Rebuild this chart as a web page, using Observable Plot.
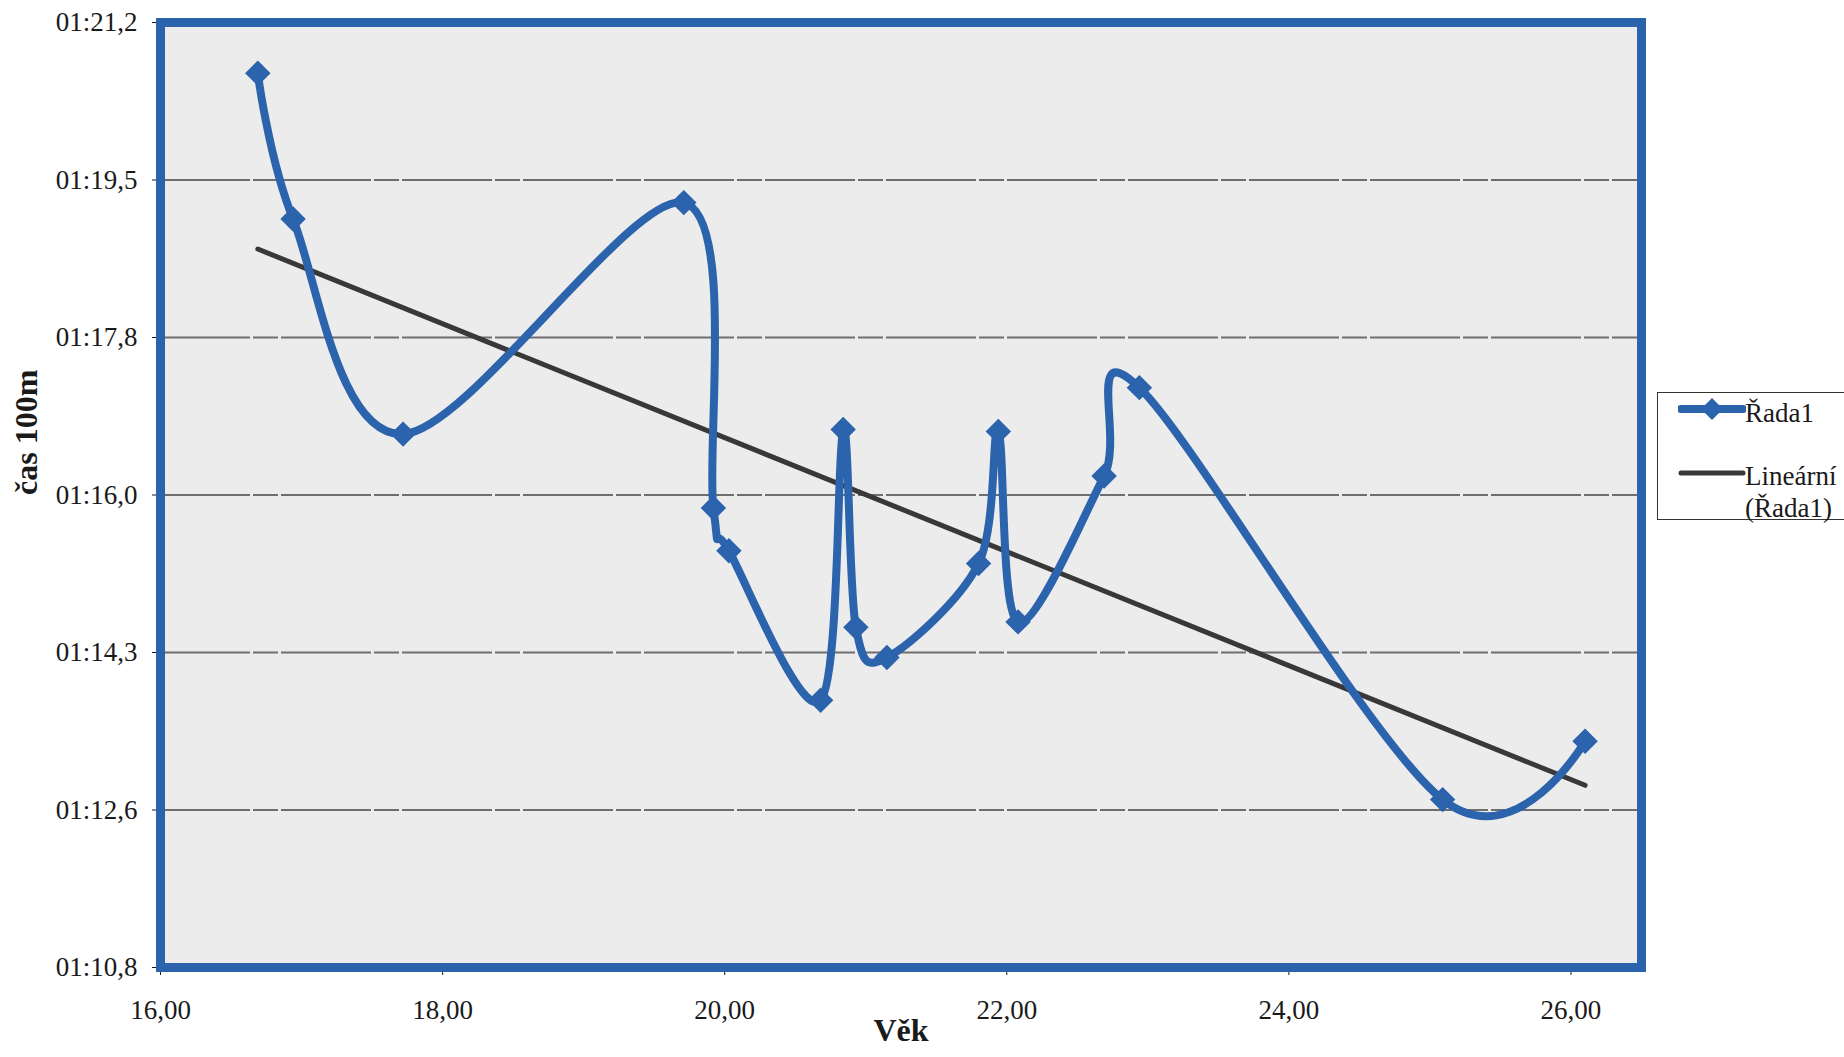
<!DOCTYPE html>
<html>
<head>
<meta charset="utf-8">
<script src="https://cdn.jsdelivr.net/npm/d3@7"></script>
<script src="https://cdn.jsdelivr.net/npm/@observablehq/plot@0.6"></script>
<style>
  html, body { margin: 0; padding: 0; background: #ffffff; overflow: hidden; }
  #wrap { position: relative; width: 1844px; height: 1057px; font-family: "Liberation Serif", "Times New Roman", serif; color: #1a1a1a; }
  #legend { position: absolute; left: 1657px; top: 392px; width: 200px; height: 128px; border: 1.5px solid #333; background: #fff; box-sizing: border-box; }
  #legend .txt { position: absolute; font-size: 27px; line-height: 32px; color: #1a1a1a; white-space: nowrap; }
  #legend svg { position: absolute; }
</style>
</head>
<body>
<div id="wrap">
  <div id="chart"></div>
  <div id="legend"></div>
</div>
<script>
// ---- data ----
const ages  = [16.69, 16.94, 17.72, 19.71, 19.92, 20.03, 20.68, 20.84, 20.93, 21.15, 21.80, 21.94, 22.08, 22.69, 22.94, 25.09, 26.10];
const times = [80.66, 79.06, 76.70, 79.24, 75.89, 75.42, 73.78, 76.75, 74.58, 74.25, 75.28, 76.73, 74.64, 76.24, 77.21, 72.69, 73.33]; // seconds

const xTicks = [16, 18, 20, 22, 24, 26];
const xTickLabels = ["16,00", "18,00", "20,00", "22,00", "24,00", "26,00"];
const yTicks = [70.848, 72.576, 74.304, 76.032, 77.76, 79.488, 81.216];
const yTickLabels = ["01:10,8", "01:12,6", "01:14,3", "01:16,0", "01:17,8", "01:19,5", "01:21,2"];

const xLabel = "Věk";
const yLabel = "čas 100m";
const seriesName = "Řada1";
const trendName1 = "Lineární";
const trendName2 = "(Řada1)";

// ---- styles ----
const blue = "#2c63ad";
const trendColor = "#383838";

const data = ages.map((a, i) => ({age: a, time: times[i]}));

const chart = Plot.plot({
  width: 1844,
  height: 1057,
  marginLeft: 160,
  marginRight: 203,
  marginTop: 22,
  marginBottom: 90,
  style: {fontFamily: "Liberation Serif, Times New Roman, serif", fontSize: "27px", color: "#1a1a1a", background: "transparent"},
  x: {
    domain: [16, 26.5],
    ticks: xTicks,
    tickFormat: d => xTickLabels[xTicks.indexOf(d)],
    tickSize: 8,
    tickPadding: 24,
    label: null
  },
  y: {
    domain: [yTicks[0], yTicks[yTicks.length - 1]],
    ticks: yTicks,
    tickFormat: d => yTickLabels[yTicks.indexOf(d)],
    tickSize: 8,
    tickPadding: 15,
    label: null
  },
  marks: [
    Plot.frame({fill: "#ececec", stroke: "none"}),
    Plot.ruleY(yTicks.slice(1, -1), {stroke: "#6e6e6e", strokeWidth: 1.8, strokeDasharray: "90,3,25,3"}),
    Plot.linearRegressionY(data, {x: "age", y: "time", ci: 0, stroke: trendColor, strokeWidth: 5}),
    Plot.line(data, {x: "age", y: "time", curve: "cardinal", stroke: blue, strokeWidth: 8, strokeLinejoin: "round", strokeLinecap: "round"}),
    Plot.dot(data, {x: "age", y: "time", symbol: "diamond2", r: 10.5, fill: blue, stroke: blue, strokeWidth: 1.5}),
    Plot.frame({stroke: blue, strokeWidth: 9}),
    Plot.text([xLabel], {frameAnchor: "bottom", dy: 73, fontSize: 32, fontWeight: "bold"}),
    Plot.text([yLabel], {frameAnchor: "left", dx: -134, rotate: -90, fontSize: 32, fontWeight: "bold"})
  ]
});
document.getElementById("chart").appendChild(chart);

// ---- legend ----
const legend = document.getElementById("legend");
legend.innerHTML = `
  <svg style="left:20px;top:4px" width="68" height="28">
    <line x1="3" y1="12" x2="65" y2="12" stroke="${blue}" stroke-width="8" stroke-linecap="round"/>
    <path d="M34,1 L45,12 L34,23 L23,12 Z" fill="${blue}"/>
  </svg>
  <div class="txt" style="left:87px;top:4px">${seriesName}</div>
  <svg style="left:20px;top:68px" width="68" height="24">
    <line x1="3" y1="12" x2="65" y2="12" stroke="${trendColor}" stroke-width="5" stroke-linecap="round"/>
  </svg>
  <div class="txt" style="left:87px;top:67px">${trendName1}</div>
  <div class="txt" style="left:87px;top:99px">${trendName2}</div>
`;
</script>
</body>
</html>
